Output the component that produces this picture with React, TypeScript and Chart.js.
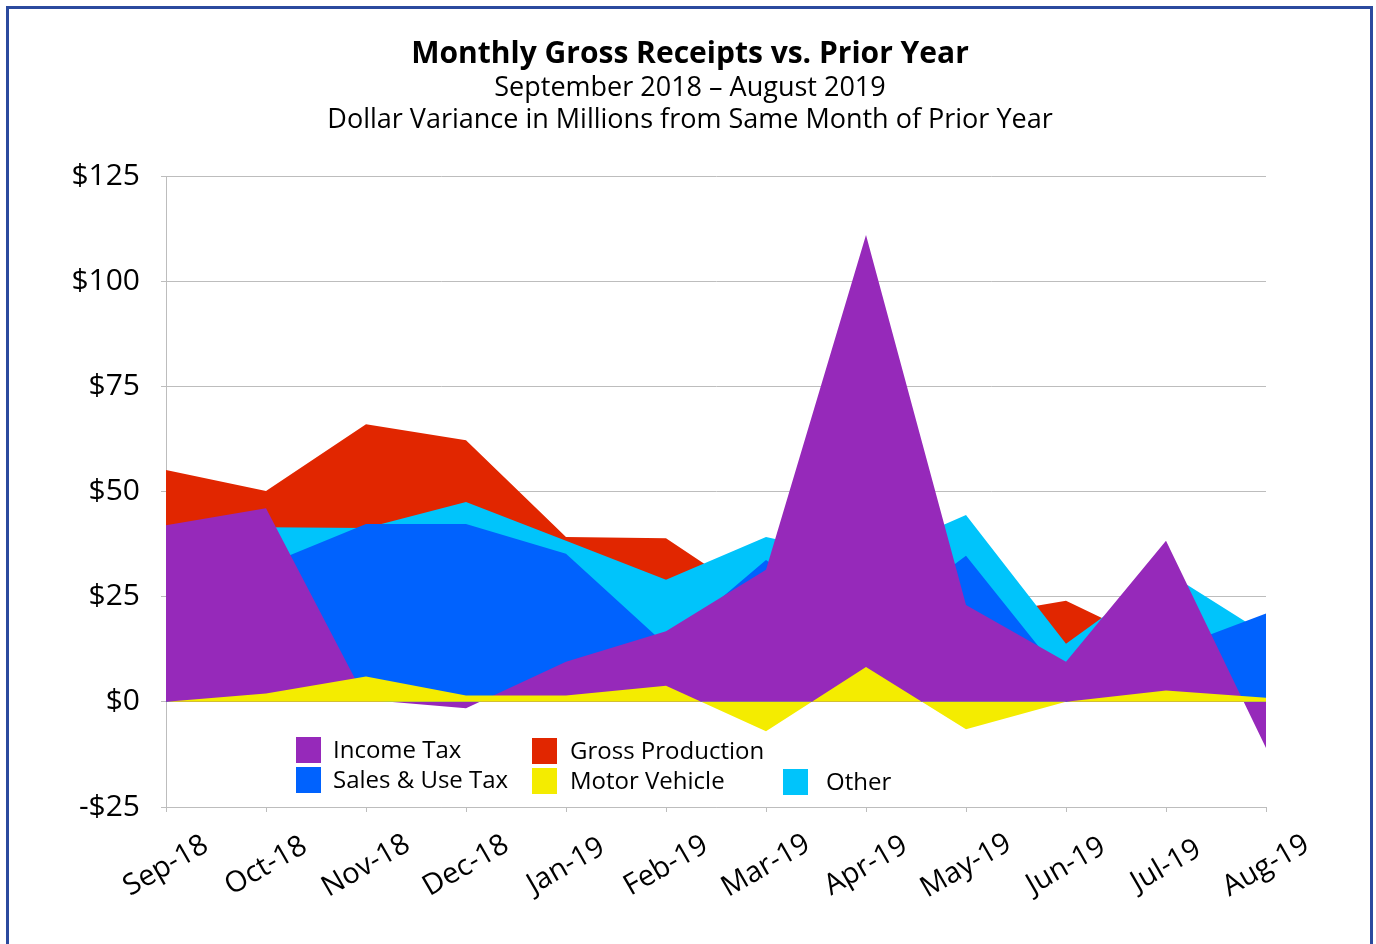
import React, { useEffect, useRef } from "react";
import { Chart, registerables } from "chart.js";

Chart.register(...registerables);

const months = ["Sep-18", "Oct-18", "Nov-18", "Dec-18", "Jan-19", "Feb-19", "Mar-19", "Apr-19", "May-19", "Jun-19", "Jul-19", "Aug-19"];
const incomeTax = [42, 46, 0.5, -1.5, 9.5, 16.8, 31.4, 111, 23, 9.5, 38.3, -11];
const salesUseTax = [28, 32.5, 42.3, 42.3, 35.2, 13.5, 33.7, 17, 34.7, 5, 12, 21];
const grossProduction = [55.1, 50.1, 66, 62.2, 39.2, 38.9, 23, 18, 20, 24, 12.6, 10];
const motorVehicle = [0, 2, 6, 1.5, 1.5, 3.8, -7, 8.3, -6.5, 0, 2.7, 1];
const other = [36, 41.5, 41.3, 47.5, 38.3, 29, 39.2, 34, 44.4, 13.8, 31, 16];

const titleText = "Monthly Gross Receipts vs. Prior Year";
const subtitleLines = ["September 2018 \u2013 August 2019", "Dollar Variance in Millions from Same Month of Prior Year"];

const COLORS = {
  income: "#9629BA",
  sales: "#0062FE",
  gross: "#E12600",
  motor: "#F4EC00",
  other: "#00C4FB",
};

const FONT = "'Open Sans', 'DejaVu Sans', sans-serif";

const legendItems = [
  { label: "Income Tax", color: COLORS.income, x: 296, y: 737, tx: 333 },
  { label: "Sales & Use Tax", color: COLORS.sales, x: 296, y: 767, tx: 333 },
  { label: "Gross Production", color: COLORS.gross, x: 532, y: 738, tx: 570 },
  { label: "Motor Vehicle", color: COLORS.motor, x: 532, y: 768, tx: 570 },
  { label: "Other", color: COLORS.other, x: 783, y: 769, tx: 826 },
];

const decorPlugin = {
  id: "decor",
  afterDraw(chart: any) {
    const ctx = chart.ctx;
    const xScale = chart.scales.x;
    ctx.save();
    ctx.fillStyle = "#000";
    ctx.textAlign = "center";
    ctx.textBaseline = "middle";
    ctx.font = `bold 30px ${FONT}`;
    ctx.fillText(titleText, 690, 54);
    ctx.font = `27px ${FONT}`;
    ctx.fillText(subtitleLines[0], 690, 88);
    ctx.fillText(subtitleLines[1], 690, 120);

    // rotated category labels, centered on ticks
    ctx.font = `29px ${FONT}`;
    months.forEach((m, i) => {
      const px = xScale.getPixelForValue(i);
      ctx.save();
      ctx.translate(px, 866);
      ctx.rotate((-30 * Math.PI) / 180);
      ctx.textAlign = "center";
      ctx.textBaseline = "middle";
      ctx.fillText(m, 0, 0);
      ctx.restore();
    });

    // legend
    ctx.font = `24px ${FONT}`;
    ctx.textAlign = "left";
    legendItems.forEach((it) => {
      ctx.fillStyle = it.color;
      ctx.fillRect(it.x, it.y, 25, 26);
      ctx.fillStyle = "#000";
      ctx.fillText(it.label, it.tx, it.y + 14);
    });
    ctx.restore();
  },
};

export default function App() {
  const ref = useRef<HTMLCanvasElement | null>(null);

  useEffect(() => {
    if (!ref.current) return;
    const mk = (label: string, data: number[], color: string) => ({
      label,
      data,
      backgroundColor: color,
      borderColor: color,
      borderWidth: 0,
      pointRadius: 0,
      fill: "origin",
      tension: 0,
    });
    const chart = new Chart(ref.current, {
      type: "line",
      data: {
        labels: months,
        datasets: [
          mk("Motor Vehicle", motorVehicle, COLORS.motor),
          mk("Income Tax", incomeTax, COLORS.income),
          mk("Sales & Use Tax", salesUseTax, COLORS.sales),
          mk("Other", other, COLORS.other),
          mk("Gross Production", grossProduction, COLORS.gross),
        ],
      },
      options: {
        animation: false,
        responsive: false,
        maintainAspectRatio: false,
        layout: { padding: { left: 0, right: 110, top: 176, bottom: 0 } },
        plugins: {
          legend: { display: false },
          title: { display: false },
          tooltip: { enabled: false },
        },
        scales: {
          x: {
            type: "category",
            offset: false,
            grid: { display: true, drawOnChartArea: false, drawTicks: true, tickLength: 5, color: "#BDBDBD" },
            border: { display: true, color: "#BDBDBD" },
            ticks: { display: false },
            afterFit: (s: any) => {
              s.height = 137;
            },
          },
          y: {
            min: -25,
            max: 125,
            grid: { color: "#BDBDBD", tickLength: 5, lineWidth: 1 },
            border: { display: true, color: "#BDBDBD" },
            ticks: {
              stepSize: 25,
              padding: 21,
              color: "#000",
              font: { family: FONT, size: 30 },
              callback: (v: any) => (v < 0 ? "-$" + Math.abs(v) : "$" + v),
            },
            afterFit: (s: any) => {
              s.width = 166;
            },
          },
        },
      },
      plugins: [decorPlugin],
    });
    return () => chart.destroy();
  }, []);

  return (
    <div style={{ position: "absolute", left: 0, top: 0, width: 1376, height: 944, background: "#fff", overflow: "hidden" }}>
      <div
        style={{
          position: "absolute",
          left: 6,
          top: 6,
          width: 1361,
          height: 1000,
          border: "3px solid #2B4A9E",
        }}
      />
      <canvas ref={ref} width={1376} height={944} style={{ position: "absolute", left: 0, top: 0, display: "block" }} />
    </div>
  );
}
